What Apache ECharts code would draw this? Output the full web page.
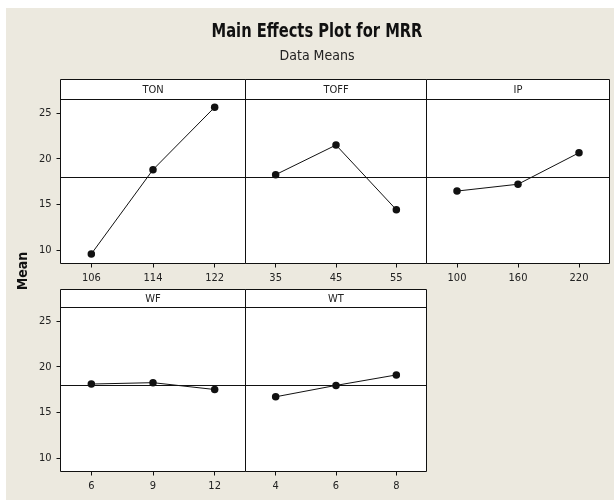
<!DOCTYPE html>
<html>
<head>
<meta charset="utf-8">
<script src="https://cdn.jsdelivr.net/npm/echarts@6/dist/echarts.min.js"></script>
<style>html,body{margin:0;padding:0;background:#fff;overflow:hidden;}#c{width:614px;height:500px;}</style>
</head>
<body>
<div id="c"></div>
<script>
// ---- data ----
const titleText = 'Main Effects Plot for MRR';
const subtitleText = 'Data Means';
const yAxisName = 'Mean';
const factors = ['TON', 'TOFF', 'IP', 'WF', 'WT'];
const levelsTON = ['106', '114', '122'];
const levelsTOFF = ['35', '45', '55'];
const levelsIP = ['100', '160', '220'];
const levelsWF = ['6', '9', '12'];
const levelsWT = ['4', '6', '8'];
const meansTON = [9.55, 18.8, 25.65];
const meansTOFF = [18.25, 21.5, 14.4];
const meansIP = [16.45, 17.2, 20.65];
const meansWF = [18.1, 18.25, 17.5];
const meansWT = [16.7, 17.95, 19.1];
const grandMean = 17.95;
const yTicks = [10, 15, 20, 25];
const yMin = 8.5, yMax = 26.5;

const levels = [levelsTON, levelsTOFF, levelsIP, levelsWF, levelsWT];
const means = [meansTON, meansTOFF, meansIP, meansWF, meansWT];

// ---- layout ----
const FONT = '"DejaVu Sans Condensed", "Liberation Sans", sans-serif';
// x0/x1: box edges (pixel line centres), hTop: header top, pTop: plot top, pBot: plot bottom
const panels = [
  {x0: 60.5, x1: 245.5, hTop: 79.5, pTop: 99.5, pBot: 263.5},
  {x0: 245.5, x1: 426.5, hTop: 79.5, pTop: 99.5, pBot: 263.5},
  {x0: 426.5, x1: 609.5, hTop: 79.5, pTop: 99.5, pBot: 263.5},
  {x0: 60.5, x1: 245.5, hTop: 289.5, pTop: 307.5, pBot: 471.5},
  {x0: 245.5, x1: 426.5, hTop: 289.5, pTop: 307.5, pBot: 471.5}
];

const grids = [], xAxes = [], yAxes = [], series = [], graphics = [];
graphics.push({type: 'rect', shape: {x: 6, y: 8, width: 608, height: 492}, style: {fill: '#ECE9DF'}, z: -10, silent: true});
graphics.push({type: 'text', x: 317, y: 32, scaleX: 0.86, style: {text: titleText, font: 'bold 19px ' + FONT, fill: '#111', align: 'center', verticalAlign: 'middle'}});
graphics.push({type: 'text', x: 317, y: 56, style: {text: subtitleText, font: '14px ' + FONT, fill: '#222', align: 'center', verticalAlign: 'middle'}});
graphics.push({type: 'text', x: 23, y: 271, rotation: Math.PI / 2, style: {text: yAxisName, font: 'bold 14px ' + FONT, fill: '#111', align: 'center', verticalAlign: 'middle'}});

panels.forEach((p, i) => {
  grids.push({left: p.x0, top: p.pTop, width: p.x1 - p.x0, height: p.pBot - p.pTop, show: false});
  graphics.push({type: 'rect', z: -5, silent: true, shape: {x: p.x0, y: p.hTop, width: p.x1 - p.x0, height: p.pBot - p.hTop}, style: {fill: '#fff', stroke: '#111', lineWidth: 1}});
  graphics.push({type: 'line', z: -4, silent: true, shape: {x1: p.x0, y1: p.pTop, x2: p.x1, y2: p.pTop}, style: {stroke: '#111', lineWidth: 1}});
  graphics.push({type: 'text', x: (p.x0 + p.x1) / 2, y: (p.hTop + p.pTop) / 2 + 0.5, style: {text: factors[i], font: '11px ' + FONT, fill: '#222', align: 'center', verticalAlign: 'middle'}});
  xAxes.push({
    type: 'category', gridIndex: i, data: levels[i], boundaryGap: true,
    axisLine: {show: false},
    axisTick: {show: true, alignWithLabel: true, length: 4, lineStyle: {color: '#111'}},
    axisLabel: {color: '#222', fontSize: 11, fontFamily: FONT, margin: 9}
  });
  const showY = (i === 0 || i === 3);
  yAxes.push({
    type: 'value', gridIndex: i, min: yMin, max: yMax,
    splitLine: {show: false},
    axisLine: {show: false},
    axisTick: {show: showY, length: 4, customValues: yTicks, lineStyle: {color: '#111'}},
    axisLabel: {show: showY, customValues: yTicks, color: '#222', fontSize: 11, fontFamily: FONT, margin: 9}
  });
  series.push({
    type: 'line', xAxisIndex: i, yAxisIndex: i, data: means[i],
    symbol: 'circle', symbolSize: 7.5, animation: false,
    lineStyle: {color: '#111', width: 1}, itemStyle: {color: '#111'},
    markLine: {silent: true, symbol: 'none', label: {show: false}, lineStyle: {color: '#111', width: 1, type: 'solid'}, data: [{yAxis: grandMean}]}
  });
});
// keep the margin right of the boxes clean
graphics.push({type: 'rect', z: 100, silent: true, shape: {x: 610.5, y: 60, width: 4, height: 230}, style: {fill: '#ECE9DF'}});
graphics.push({type: 'rect', z: 100, silent: true, shape: {x: 427.5, y: 280, width: 8, height: 200}, style: {fill: '#ECE9DF'}});

const chart = echarts.init(document.getElementById('c'), null, {renderer: 'canvas'});
chart.setOption({
  animation: false,
  backgroundColor: '#fff',
  grid: grids, xAxis: xAxes, yAxis: yAxes, series: series,
  graphic: graphics
});
</script>
</body>
</html>
